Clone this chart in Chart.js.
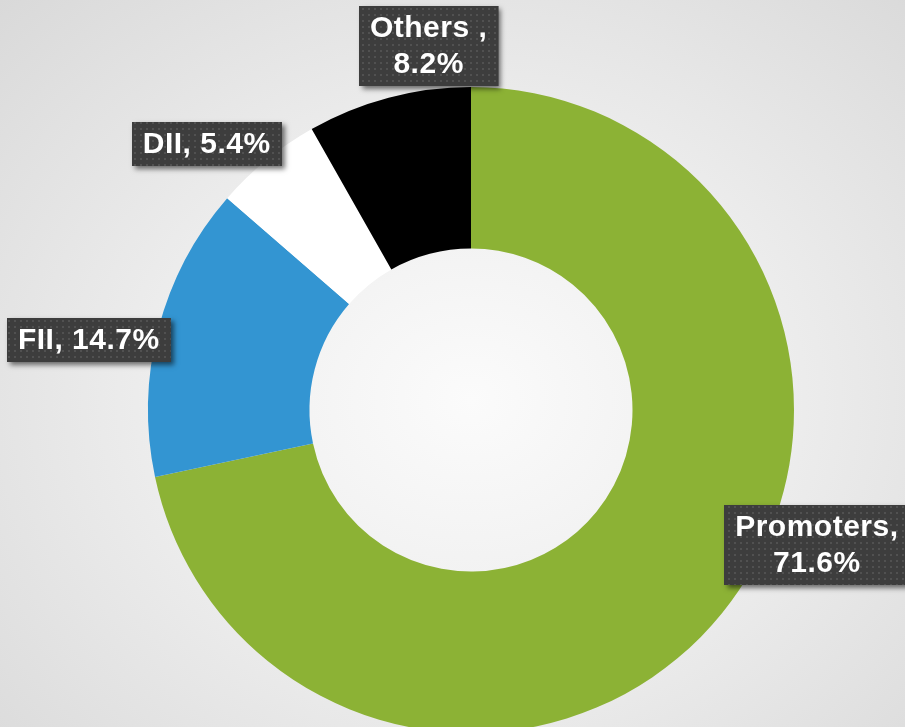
<!DOCTYPE html>
<html>
<head>
<meta charset="utf-8">
<script src="https://cdn.jsdelivr.net/npm/chart.js"></script>
<style>
    html, body { margin: 0; padding: 0; overflow: hidden; }
    body {
        width: 905px;
        height: 727px;
        background: radial-gradient(ellipse at 52% 55%, #fbfbfb 0%, #eeeeee 45%, #d9d9d9 100%);
    }
    #wrap { width: 905px; height: 740px; position: relative; }
</style>
</head>
<body>
<div id="wrap"><canvas id="donut"></canvas></div>
<script>
// shareholding data
const holders = ["Promoters", "FII", "DII", "Others "];
const shares = [71.6, 14.7, 5.4, 8.2];
const sliceColors = ["#8cb235", "#3395d2", "#ffffff", "#000000"];

// label text lines (as on the chart)
const labelLines = [
    ["Promoters,", "71.6%"],
    ["FII, 14.7%"],
    ["DII, 5.4%"],
    ["Others ,", "8.2%"]
];
// where each label box sits, relative to the donut centre, in outer radius units
const labelSpots = [[1.07, 0.418], [-1.184, -0.217], [-0.819, -0.825], [-0.132, -1.127]];

// small dotted fill like the office data callouts
function makeDots(ctx) {
    const c = document.createElement("canvas");
    c.width = 6; c.height = 6;
    const p = c.getContext("2d");
    p.fillStyle = "#3d3d3d";
    p.fillRect(0, 0, 6, 6);
    p.fillStyle = "#515151";
    p.fillRect(2, 2, 2, 2);
    return ctx.createPattern(c, "repeat");
}

const calloutPlugin = {
    id: "callouts",
    afterDraw(chart) {
        const ctx = chart.ctx;
        const arcs = chart.getDatasetMeta(0).data;
        const dots = makeDots(ctx);
        const lineH = 36, padX = 11, padY = 8;
        ctx.save();
        ctx.font = "bold 30px 'Liberation Sans', Arial, sans-serif";
        ctx.letterSpacing = "0.5px";
        arcs.forEach((arc, i) => {
            const r = arc.outerRadius;
            const cx = arc.x + labelSpots[i][0] * r;
            const cy = arc.y + labelSpots[i][1] * r;
            const lines = labelLines[i];
            const w = Math.max(...lines.map(t => ctx.measureText(t).width)) + padX * 2;
            const h = lines.length * lineH + padY;
            const x0 = Math.round(cx - w / 2), y0 = Math.round(cy - h / 2);

            ctx.save();
            ctx.shadowColor = "rgba(0,0,0,0.55)";
            ctx.shadowBlur = 5;
            ctx.shadowOffsetX = 3;
            ctx.shadowOffsetY = 3;
            ctx.fillStyle = "#3d3d3d";
            ctx.fillRect(x0, y0, w, h);
            ctx.restore();
            ctx.fillStyle = dots;
            ctx.fillRect(x0, y0, w, h);

            ctx.fillStyle = "#ffffff";
            ctx.textAlign = "center";
            ctx.textBaseline = "middle";
            lines.forEach((t, k) => {
                ctx.fillText(t, cx + 0.25, y0 + padY / 2 + lineH * k + lineH / 2 + 1);
            });
        });
        ctx.restore();
    }
};

document.addEventListener("DOMContentLoaded", function () {
    const ctx = document.getElementById("donut").getContext("2d");
    new Chart(ctx, {
        type: "doughnut",
        data: {
            labels: holders,
            datasets: [{
                data: shares,
                backgroundColor: sliceColors,
                borderWidth: 0
            }]
        },
        options: {
            responsive: true,
            maintainAspectRatio: false,
            animation: false,
            cutout: "50%",
            layout: { padding: { left: 148, right: 111, top: 87, bottom: 7 } },
            plugins: {
                legend: { display: false },
                tooltip: { enabled: false }
            },
            events: []
        },
        plugins: [calloutPlugin]
    });
});
</script>
</body>
</html>
